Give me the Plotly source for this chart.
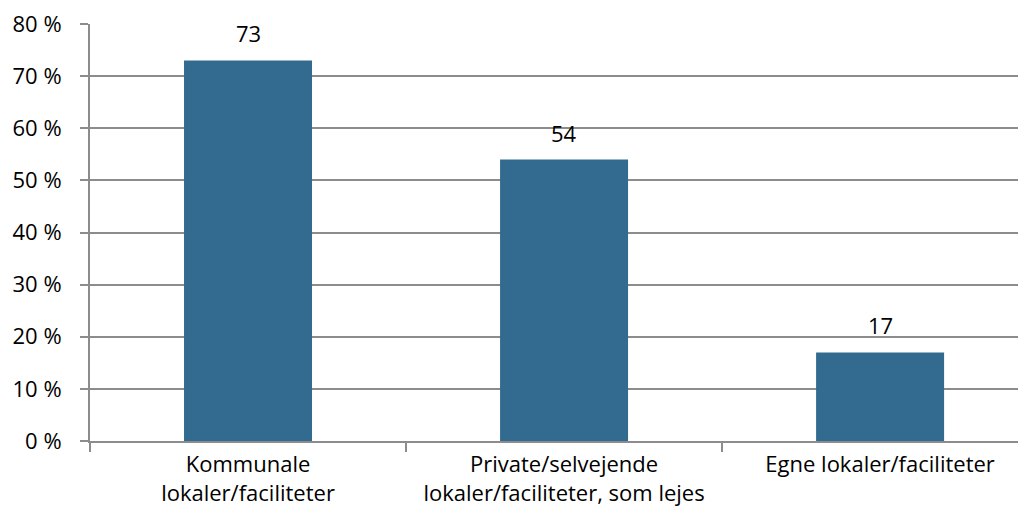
import plotly.graph_objects as go

categories = [
    "Kommunale<br>lokaler/faciliteter",
    "Private/selvejende<br>lokaler/faciliteter, som lejes",
    "Egne lokaler/faciliteter",
]
values = [73, 54, 17]
y_ticks = [0, 10, 20, 30, 40, 50, 60, 70, 80]
y_tick_text = ["0 %", "10 %", "20 %", "30 %", "40 %", "50 %", "60 %", "70 %", "80 %"]

FONT = "Open Sans"
FSIZE = 22
GRID = "#8c8c8c"

fig = go.Figure()

fig.add_trace(
    go.Bar(
        x=categories,
        y=values,
        width=0.405,
        marker=dict(color="#336a90", line=dict(width=0)),
        hoverinfo="skip",
    )
)

# value labels sit well above the bars, as in the original
for cat, val in zip(categories, values):
    fig.add_annotation(
        x=cat,
        y=val,
        text=str(val),
        showarrow=False,
        yanchor="bottom",
        yshift=10,
        font=dict(family=FONT, size=FSIZE, color="#000000"),
    )

# the page body adds an 8px offset, so margins are trimmed by 8
fig.update_layout(
    width=1026,
    height=519,
    margin=dict(l=82, r=0, t=16, b=86),
    paper_bgcolor="white",
    plot_bgcolor="white",
    showlegend=False,
    font=dict(family=FONT, size=FSIZE, color="#000000"),
)

fig.update_xaxes(
    type="category",
    range=[-0.5, 2.487],
    tickson="boundaries",
    ticks="outside",
    ticklen=9,
    tickwidth=2,
    tickcolor=GRID,
    showline=True,
    linecolor=GRID,
    linewidth=2,
    showgrid=False,
    ticklabelstandoff=3,
    tickfont=dict(family=FONT, size=FSIZE, color="#000000"),
)

fig.update_yaxes(
    range=[0, 80],
    tickmode="array",
    tickvals=y_ticks,
    ticktext=y_tick_text,
    ticks="outside",
    ticklen=8,
    tickwidth=2,
    tickcolor=GRID,
    showline=True,
    linecolor=GRID,
    linewidth=2,
    showgrid=True,
    gridcolor=GRID,
    gridwidth=1.5,
    zeroline=False,
    ticklabelstandoff=14,
    ticklabeloverflow="allow",
    tickfont=dict(family=FONT, size=FSIZE, color="#000000"),
)

fig.write_html("out.html")
